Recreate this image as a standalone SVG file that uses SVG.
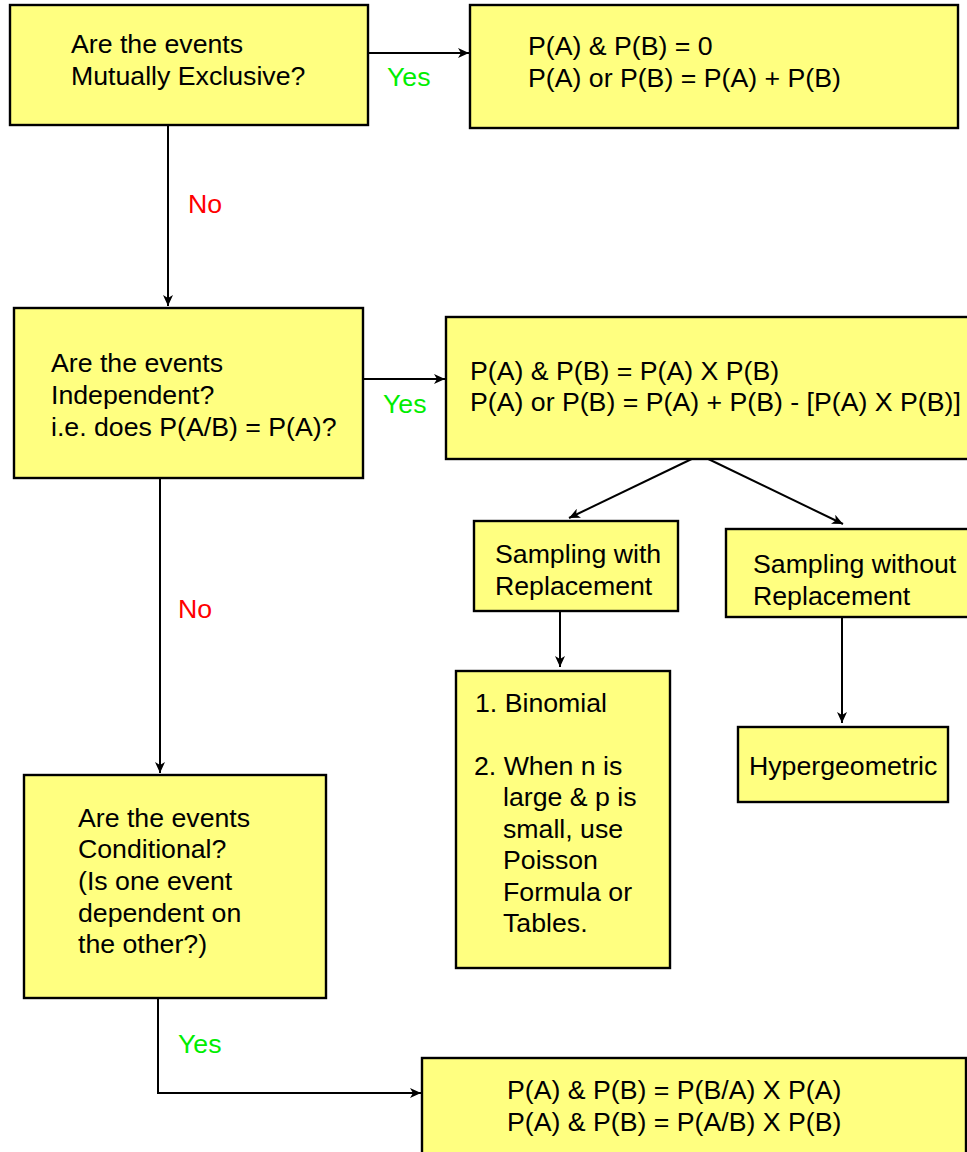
<svg xmlns="http://www.w3.org/2000/svg" width="967" height="1152" viewBox="0 0 967 1152">
<defs>
<style>
.box{fill:#ffff80;stroke:#000;stroke-width:2.4}
.t{font-family:"Liberation Sans",Arial,sans-serif;font-size:26.7px;fill:#000}
.yes{font-family:"Liberation Sans",Arial,sans-serif;font-size:26.7px;fill:#00ee00}
.no{font-family:"Liberation Sans",Arial,sans-serif;font-size:26.7px;fill:#ff0000}
.c{fill:none;stroke:#000;stroke-width:2}
</style>
<marker id="ah" markerWidth="12" markerHeight="10" refX="11" refY="5" orient="auto" markerUnits="userSpaceOnUse">
<path d="M0,0 L11,5 L0,10 L3,5 Z" fill="#000"/>
</marker>
</defs>
<rect width="967" height="1152" fill="#fff"/>
<g id="connectors">
<line class="c" x1="368" y1="53" x2="469" y2="53" marker-end="url(#ah)"/>
<line class="c" x1="168" y1="123" x2="168" y2="306" marker-end="url(#ah)"/>
<line class="c" x1="364" y1="379" x2="445" y2="379" marker-end="url(#ah)"/>
<line class="c" x1="160" y1="477" x2="160" y2="773" marker-end="url(#ah)"/>
<line class="c" x1="700" y1="455" x2="569" y2="518" marker-end="url(#ah)"/>
<line class="c" x1="700" y1="455" x2="843" y2="524" marker-end="url(#ah)"/>
<line class="c" x1="560" y1="610" x2="560" y2="667" marker-end="url(#ah)"/>
<line class="c" x1="842" y1="616" x2="842" y2="723" marker-end="url(#ah)"/>
<polyline class="c" points="158,997 158,1093 421,1093" marker-end="url(#ah)"/>
<text class="yes" x="387" y="86">Yes</text>
<text class="no" x="188" y="213">No</text>
<text class="yes" x="383" y="413">Yes</text>
<text class="no" x="178" y="618">No</text>
<text class="yes" x="178" y="1053">Yes</text>
</g>
<g id="n1">
<rect class="box" x="10" y="5" width="358" height="120"/>
<text class="t" x="71" y="53">Are the events</text>
<text class="t" x="71" y="85">Mutually Exclusive?</text>
</g>
<g id="n2">
<rect class="box" x="470" y="5" width="488" height="123"/>
<text class="t" x="528" y="55">P(A) &amp; P(B) = 0</text>
<text class="t" x="528" y="87">P(A) or P(B) = P(A) + P(B)</text>
</g>
<g id="n3">
<rect class="box" x="14" y="308" width="349" height="170"/>
<text class="t" x="51" y="372">Are the events</text>
<text class="t" x="51" y="404">Independent?</text>
<text class="t" x="51" y="436">i.e. does P(A/B) = P(A)?</text>
</g>
<g id="n4">
<rect class="box" x="446" y="317" width="530" height="142"/>
<text class="t" x="470" y="380">P(A) &amp; P(B) = P(A) X P(B)</text>
<text class="t" x="470" y="411">P(A) or P(B) = P(A) + P(B) - [P(A) X P(B)]</text>
</g>
<g id="n5">
<rect class="box" x="474" y="521" width="204" height="90"/>
<text class="t" x="495" y="563">Sampling with</text>
<text class="t" x="495" y="595">Replacement</text>
</g>
<g id="n6">
<rect class="box" x="726" y="529" width="250" height="88"/>
<text class="t" x="753" y="573">Sampling without</text>
<text class="t" x="753" y="605">Replacement</text>
</g>
<g id="n7">
<rect class="box" x="456" y="671" width="214" height="297"/>
<text class="t" x="475" y="712">1. Binomial</text>
<text class="t" x="474" y="775">2. When n is</text>
<text class="t" x="503" y="806">large &amp; p is</text>
<text class="t" x="503" y="838">small, use</text>
<text class="t" x="503" y="869">Poisson</text>
<text class="t" x="503" y="901">Formula or</text>
<text class="t" x="503" y="932">Tables.</text>
</g>
<g id="n8">
<rect class="box" x="738" y="727" width="210" height="75"/>
<text class="t" x="749" y="775">Hypergeometric</text>
</g>
<g id="n9">
<rect class="box" x="24" y="775" width="302" height="223"/>
<text class="t" x="78" y="827">Are the events</text>
<text class="t" x="78" y="858">Conditional?</text>
<text class="t" x="78" y="890">(Is one event</text>
<text class="t" x="78" y="922">dependent on</text>
<text class="t" x="78" y="953">the other?)</text>
</g>
<g id="n10">
<rect class="box" x="422" y="1058" width="544" height="104"/>
<text class="t" x="507" y="1099">P(A) &amp; P(B) = P(B/A) X P(A)</text>
<text class="t" x="507" y="1131">P(A) &amp; P(B) = P(A/B) X P(B)</text>
</g>
</svg>
